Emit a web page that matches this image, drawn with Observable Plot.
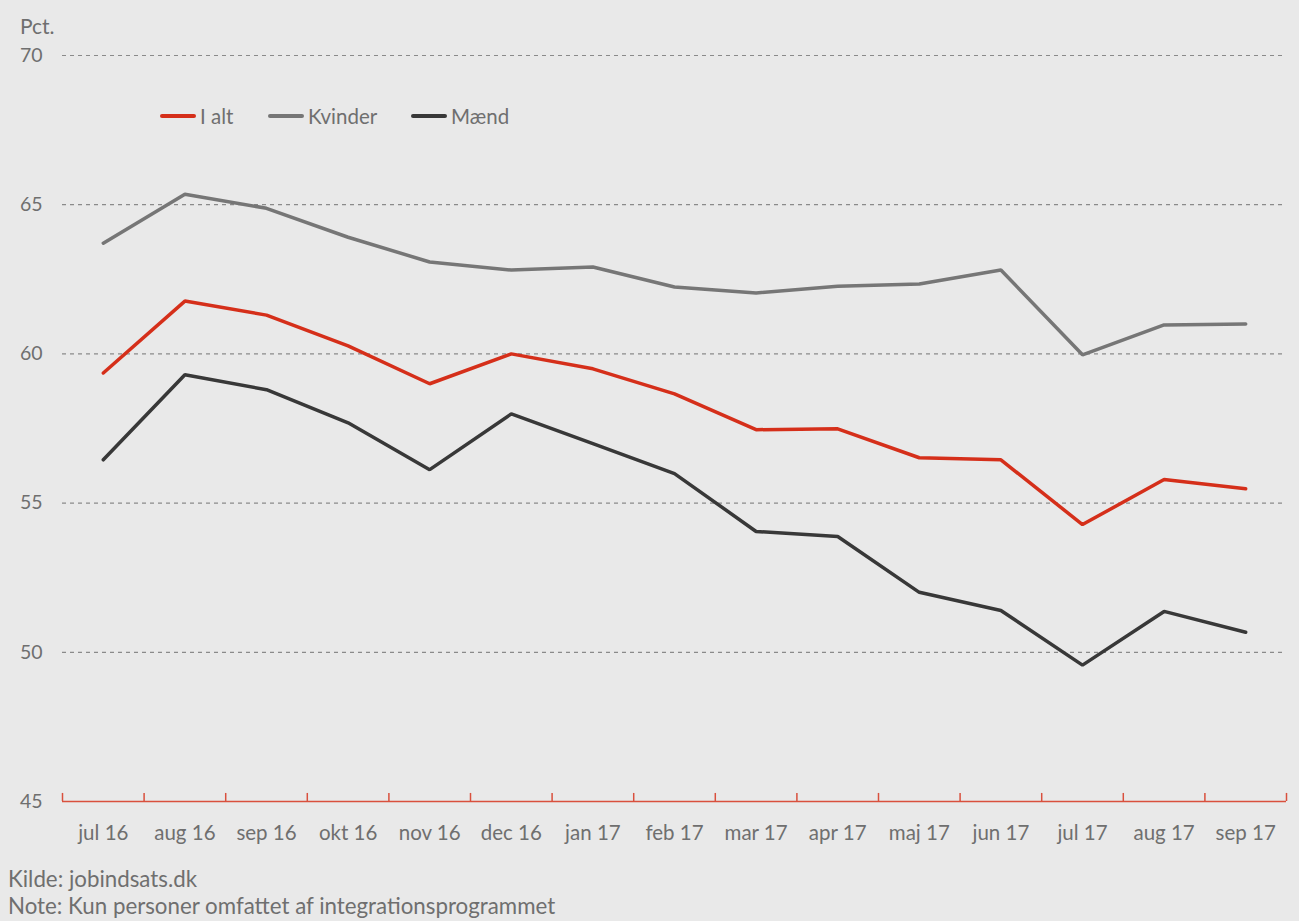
<!DOCTYPE html>
<html>
<head>
<meta charset="utf-8">
<script src="https://cdn.jsdelivr.net/npm/d3@7"></script>
<script src="https://cdn.jsdelivr.net/npm/@observablehq/plot@0.6"></script>
<style>
  html, body { margin: 0; padding: 0; background: #e9e9e9; }
  body { width: 1299px; height: 921px; position: relative; overflow: hidden; font-family: Lato, "Open Sans", sans-serif; color: #6f6f6f; }
  #unit { position: absolute; left: 20px; top: 13px; font-size: 21px; }
  #legend { position: absolute; left: 0; top: 103px; font-size: 20.5px; width: 700px; height: 26px; }
  #legend .item { position: absolute; top: 0; display: flex; align-items: center; height: 26px; }
  #legend .sw { width: 36px; height: 4px; border-radius: 2px; margin-right: 4px; }
  #chart { position: absolute; left: 0; top: 0; }
  #caption { position: absolute; left: 8px; top: 865px; font-size: 22.3px; line-height: 27px; }
</style>
</head>
<body>
<div id="chart"></div>
<div id="unit">Pct.</div>
<div id="legend"></div>
<div id="caption"><div>Kilde: jobindsats.dk</div><div>Note: Kun personer omfattet af integrationsprogrammet</div></div>
<script>
const months = ["jul 16","aug 16","sep 16","okt 16","nov 16","dec 16","jan 17","feb 17","mar 17","apr 17","maj 17","jun 17","jul 17","aug 17","sep 17"];
const iAlt    = [59.36, 61.77, 61.30, 60.27, 59.00, 60.00, 59.50, 58.66, 57.46, 57.49, 56.52, 56.45, 54.28, 55.79, 55.48];
const kvinder = [63.71, 65.35, 64.88, 63.91, 63.08, 62.81, 62.91, 62.24, 62.04, 62.27, 62.34, 62.81, 59.97, 60.97, 61.00];
const maend   = [56.45, 59.30, 58.80, 57.69, 56.12, 57.99, 56.99, 55.99, 54.05, 53.88, 52.01, 51.40, 49.57, 51.37, 50.67];
const yTicks = [45, 50, 55, 60, 65, 70];
const seriesNames = ["I alt", "Kvinder", "Mænd"];
const seriesColors = ["#d52f1a", "#767676", "#383838"];

const seriesValues = [iAlt, kvinder, maend];
const rows = [];
seriesNames.forEach((name, s) => {
  seriesValues[s].forEach((v, i) => rows.push({series: name, i, value: v}));
});
const boundaries = d3.range(0, months.length + 1).map(i => i - 0.5);

const plot = Plot.plot({
  width: 1299,
  height: 860,
  marginLeft: 62,
  marginRight: 13,
  marginTop: 55,
  marginBottom: 59,
  style: {background: "transparent", fontFamily: "Lato, 'Open Sans', sans-serif", fontSize: "19px", color: "#6f6f6f"},
  x: {type: "linear", domain: [-0.5, months.length - 0.5]},
  y: {domain: [45, 70]},
  color: {domain: seriesNames, range: seriesColors},
  marks: [
    Plot.ruleY(yTicks.filter(t => t > 45), {y: d => d, stroke: "#8a8a8a", strokeWidth: 1.2, strokeDasharray: "4,4"}),
    Plot.ruleY([45], {stroke: "#d9503d", strokeWidth: 1.5}),
    Plot.ruleX(boundaries, {x: d => d, y1: 45, y2: 45.27, stroke: "#d9503d", strokeWidth: 1.5}),
    Plot.axisY(yTicks, {tickSize: 0, tickPadding: 20, label: null, fill: "#6f6f6f", fontSize: 19.5}),
    Plot.axisX(d3.range(months.length), {tickSize: 0, tickPadding: 24, tickFormat: i => months[i], label: null, fill: "#6f6f6f", fontSize: 20.5}),
    Plot.line(rows, {x: "i", y: "value", z: "series", stroke: "series", strokeWidth: 3.5, strokeLinejoin: "miter", strokeLinecap: "round"})
  ]
});
document.getElementById("chart").appendChild(plot);

const legend = document.getElementById("legend");
const legendLeft = [160, 268, 411];
seriesNames.forEach((name, s) => {
  const item = document.createElement("div");
  item.className = "item";
  item.style.left = legendLeft[s] + "px";
  const sw = document.createElement("div");
  sw.className = "sw";
  sw.style.background = seriesColors[s];
  const label = document.createElement("span");
  label.textContent = name;
  item.appendChild(sw);
  item.appendChild(label);
  legend.appendChild(item);
});
</script>
</body>
</html>
